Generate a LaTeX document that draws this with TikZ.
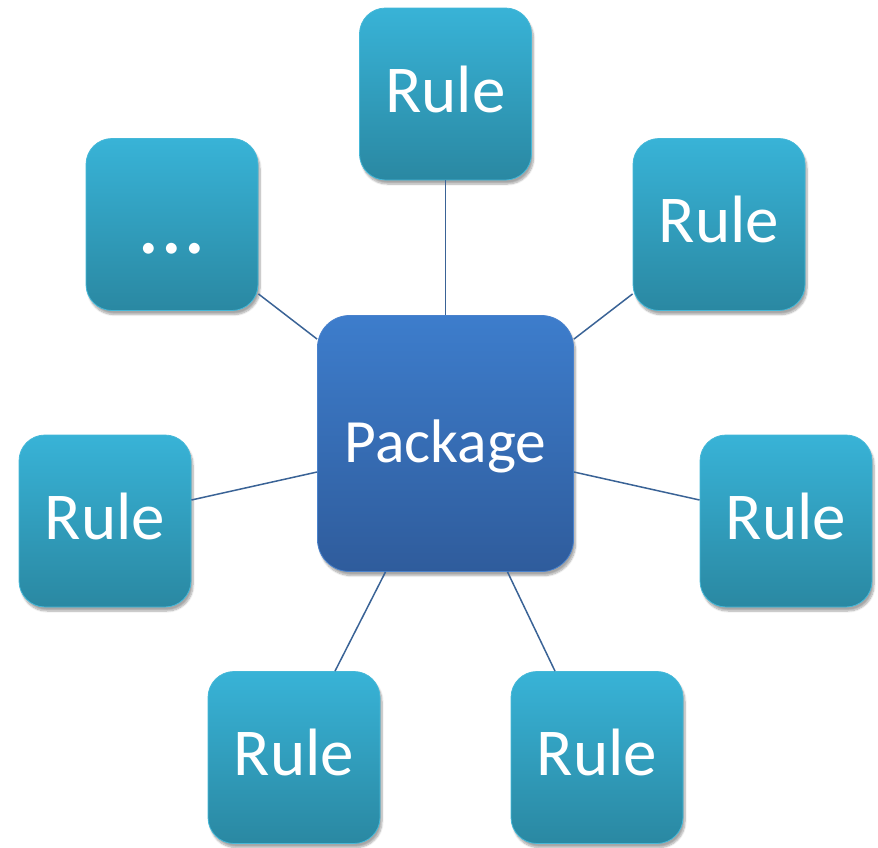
\documentclass[tikz,border=0pt]{standalone}
\usepackage{fontspec}
\setmainfont{Carlito}
\usetikzlibrary{shadows.blur,calc}
\definecolor{rtop}{HTML}{38B3D7}
\definecolor{rbot}{HTML}{2A88A2}
\definecolor{redge}{HTML}{45B8D8}
\definecolor{ptop}{HTML}{3D7DCC}
\definecolor{pbot}{HTML}{2F5C9C}
\definecolor{pedge}{HTML}{4A82CC}
\definecolor{link}{HTML}{3A6396}
\tikzset{
  rulebox/.style={draw=redge, line width=0.8pt, rounded corners=26pt, minimum width=172pt, minimum height=172pt,
    top color=rtop, bottom color=rbot, text=white, font=\fontsize{67}{72}\selectfont,
    text height=44pt, text depth=8pt, inner sep=0pt,
    blur shadow={shadow xshift=2pt, shadow yshift=-4pt, shadow blur steps=8, shadow opacity=35}},
  dotsbox/.style={rulebox, font=\fontsize{90}{96}\selectfont, text height=57pt, text depth=0pt},
  pkgbox/.style={draw=pedge, line width=0.8pt, rounded corners=32pt, minimum width=256pt, minimum height=256pt,
    top color=ptop, bottom color=pbot, text=white, font=\fontsize{61.5}{66}\selectfont,
    text height=45pt, text depth=8pt, inner sep=0pt,
    blur shadow={shadow xshift=2pt, shadow yshift=-4pt, shadow blur steps=8, shadow opacity=35}},
  linkline/.style={draw=link, line width=1.5pt}
}
\begin{document}
\begin{tikzpicture}[x=1pt,y=-1pt]
\useasboundingbox (0,0) rectangle (878,847);
\node[pkgbox] (pkg) at (445.5,443.5) {Package};
\node[rulebox] (t) at (445.5,94) {Rule};
\node[rulebox] (tr) at (719,224.5) {Rule};
\node[dotsbox] (tl) at (172,224.5) {...};
\node[rulebox] (l) at (105,521) {Rule};
\node[rulebox] (r) at (786,521) {Rule};
\node[rulebox] (bl) at (294,757.5) {Rule};
\node[rulebox] (br) at (597,757.5) {Rule};
\draw[linkline] (t.south) -- (pkg.north);
\draw[linkline] ($(tr.south west)+(0,-17)$) -- ($(pkg.north east)+(0,24)$);
\draw[linkline] ($(tl.south east)+(0,-17)$) -- ($(pkg.north west)+(0,24)$);
\draw[linkline] ($(l.east)+(0,-21)$) -- ($(pkg.west)+(0,28.5)$);
\draw[linkline] ($(r.west)+(0,-21)$) -- ($(pkg.east)+(0,28.5)$);
\draw[linkline] ($(bl.north)+(41,0)$) -- ($(pkg.south)+(-60,0)$);
\draw[linkline] ($(br.north)+(-42,0)$) -- ($(pkg.south)+(62,0)$);
\end{tikzpicture}
\end{document}
